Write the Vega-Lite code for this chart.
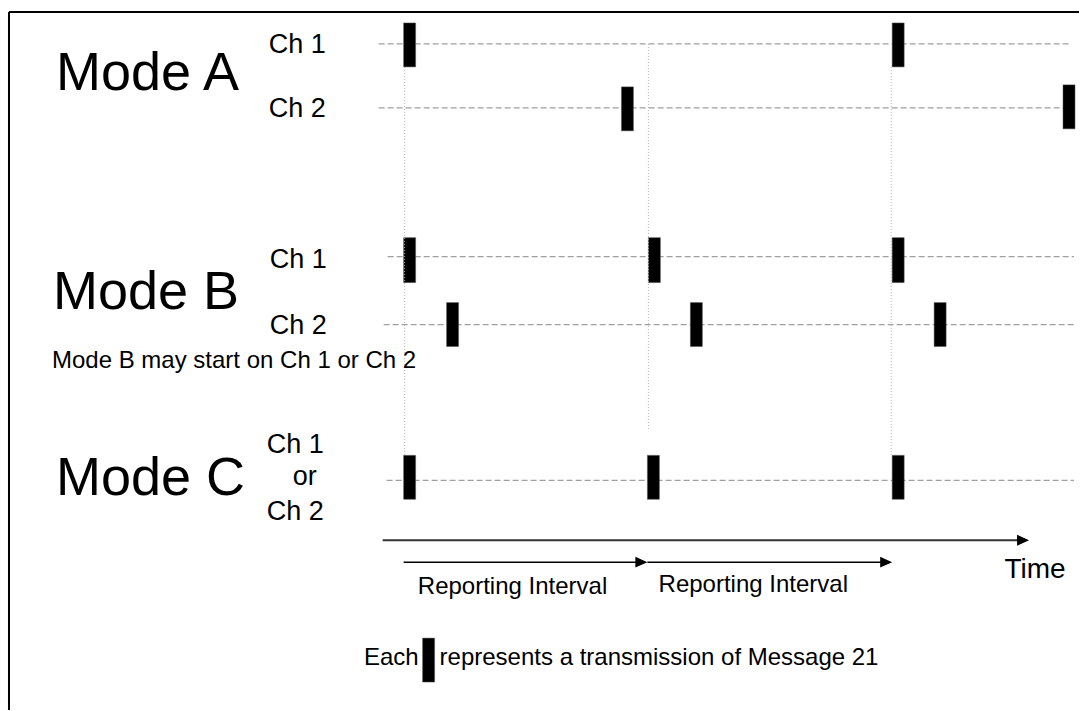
{
  "$schema": "https://vega.github.io/schema/vega-lite/v6.json",
  "width": 1080,
  "height": 711,
  "padding": 0,
  "autosize": {"type": "fit", "contains": "padding"},
  "background": "white",
  "config": {"view": {"stroke": null}, "font": "Liberation Sans"},
  "datasets": {
    "frame": [
      {"x": 9, "x2": 9, "y": 12, "y2": 711},
      {"x": 9, "x2": 1080, "y": 12, "y2": 12}
    ],
    "hlines": [
      {"row": "A Ch 1", "x": 379, "x2": 1070, "y": 44, "y2": 44},
      {"row": "A Ch 2", "x": 379, "x2": 1066, "y": 108, "y2": 108},
      {"row": "B Ch 1", "x": 388, "x2": 1075, "y": 257, "y2": 257},
      {"row": "B Ch 2", "x": 384, "x2": 1075, "y": 325, "y2": 325},
      {"row": "C", "x": 387, "x2": 1075, "y": 481, "y2": 481}
    ],
    "vlines": [
      {"x": 405, "x2": 405, "y": 67, "y2": 456},
      {"x": 649, "x2": 649, "y": 44, "y2": 430},
      {"x": 892, "x2": 892, "y": 67, "y2": 456}
    ],
    "bars": [
      {"row": "A Ch 1", "x": 404, "x2": 416, "y": 23, "y2": 67},
      {"row": "A Ch 1", "x": 893, "x2": 905, "y": 23, "y2": 67},
      {"row": "A Ch 2", "x": 622, "x2": 634, "y": 87, "y2": 131},
      {"row": "A Ch 2", "x": 1064, "x2": 1076, "y": 85, "y2": 129},
      {"row": "B Ch 1", "x": 404, "x2": 416, "y": 238, "y2": 283},
      {"row": "B Ch 1", "x": 649, "x2": 661, "y": 238, "y2": 283},
      {"row": "B Ch 1", "x": 893, "x2": 905, "y": 238, "y2": 283},
      {"row": "B Ch 2", "x": 447, "x2": 459, "y": 303, "y2": 347},
      {"row": "B Ch 2", "x": 691, "x2": 703, "y": 303, "y2": 347},
      {"row": "B Ch 2", "x": 935, "x2": 947, "y": 303, "y2": 347},
      {"row": "C", "x": 404, "x2": 416, "y": 456, "y2": 500},
      {"row": "C", "x": 648, "x2": 660, "y": 456, "y2": 500},
      {"row": "C", "x": 893, "x2": 905, "y": 456, "y2": 500},
      {"row": "legend", "x": 423, "x2": 435, "y": 639, "y2": 683}
    ],
    "timeline": [
      {"x": 383, "x2": 1020, "y": 541, "y2": 541}
    ],
    "intervals": [
      {"x": 404, "x2": 638, "y": 563, "y2": 563},
      {"x": 648, "x2": 883, "y": 563, "y2": 563}
    ],
    "timehead": [{"x": 1024, "y": 541}],
    "intervalheads": [{"x": 642, "y": 563}, {"x": 887, "y": 563}],
    "modes": [
      {"label": "Mode A", "x": 56, "y": 74},
      {"label": "Mode B", "x": 53, "y": 293},
      {"label": "Mode C", "x": 56, "y": 480}
    ],
    "channels": [
      {"label": "Ch 1", "x": 269, "y": 45},
      {"label": "Ch 2", "x": 269, "y": 109},
      {"label": "Ch 1", "x": 270, "y": 260},
      {"label": "Ch 2", "x": 270, "y": 326},
      {"label": "Ch 1", "x": 267, "y": 446},
      {"label": "or", "x": 293, "y": 478},
      {"label": "Ch 2", "x": 267, "y": 513}
    ],
    "notesLeft": [
      {"label": "Mode B may start on Ch 1 or Ch 2", "x": 52, "y": 362},
      {"label": "represents a transmission of Message 21", "x": 440, "y": 659}
    ],
    "notesCenter": [
      {"label": "Reporting Interval", "x": 513, "y": 588},
      {"label": "Reporting Interval", "x": 754, "y": 586}
    ],
    "notesRight": [
      {"label": "Each", "x": 419, "y": 659}
    ],
    "timeLabel": [
      {"label": "Time", "x": 1036, "y": 571}
    ]
  },
  "encoding": {
    "x": {"field": "x", "type": "quantitative", "axis": null, "scale": {"domain": [0, 1080], "nice": false, "zero": false}},
    "y": {"field": "y", "type": "quantitative", "axis": null, "scale": {"domain": [0, 711], "nice": false, "zero": false, "reverse": true}}
  },
  "layer": [
    {
      "data": {"name": "frame"},
      "mark": {"type": "rule", "color": "black", "strokeWidth": 2},
      "encoding": {"x2": {"field": "x2"}, "y2": {"field": "y2"}}
    },
    {
      "data": {"name": "hlines"},
      "mark": {"type": "rule", "color": "#a0a0a0", "strokeWidth": 1.3, "strokeDash": [6, 3]},
      "encoding": {"x2": {"field": "x2"}, "y2": {"field": "y2"}}
    },
    {
      "data": {"name": "bars"},
      "mark": {"type": "rect", "color": "black", "stroke": "#555555", "strokeWidth": 0.5},
      "encoding": {"x2": {"field": "x2"}, "y2": {"field": "y2"}}
    },
    {
      "data": {"name": "vlines"},
      "mark": {"type": "rule", "color": "#b0b0b0", "strokeWidth": 1, "strokeDash": [1, 2]},
      "encoding": {"x2": {"field": "x2"}, "y2": {"field": "y2"}}
    },
    {
      "data": {"name": "timeline"},
      "mark": {"type": "rule", "color": "#333333", "strokeWidth": 2.2},
      "encoding": {"x2": {"field": "x2"}, "y2": {"field": "y2"}}
    },
    {
      "data": {"name": "intervals"},
      "mark": {"type": "rule", "color": "black", "strokeWidth": 1.5},
      "encoding": {"x2": {"field": "x2"}, "y2": {"field": "y2"}}
    },
    {
      "data": {"name": "timehead"},
      "mark": {"type": "point", "shape": "M-1,-0.9L1,0L-1,0.9Z", "filled": true, "color": "black", "opacity": 1, "size": 144}
    },
    {
      "data": {"name": "intervalheads"},
      "mark": {"type": "point", "shape": "M-1,-0.9L1,0L-1,0.9Z", "filled": true, "color": "black", "opacity": 1, "size": 144}
    },
    {
      "data": {"name": "modes"},
      "mark": {"type": "text", "fontSize": 54, "align": "left", "baseline": "middle", "color": "black"},
      "encoding": {"text": {"field": "label"}}
    },
    {
      "data": {"name": "channels"},
      "mark": {"type": "text", "fontSize": 27, "align": "left", "baseline": "middle", "color": "black"},
      "encoding": {"text": {"field": "label"}}
    },
    {
      "data": {"name": "notesLeft"},
      "mark": {"type": "text", "fontSize": 24, "align": "left", "baseline": "middle", "color": "black"},
      "encoding": {"text": {"field": "label"}}
    },
    {
      "data": {"name": "notesCenter"},
      "mark": {"type": "text", "fontSize": 24, "align": "center", "baseline": "middle", "color": "black"},
      "encoding": {"text": {"field": "label"}}
    },
    {
      "data": {"name": "notesRight"},
      "mark": {"type": "text", "fontSize": 24, "align": "right", "baseline": "middle", "color": "black"},
      "encoding": {"text": {"field": "label"}}
    },
    {
      "data": {"name": "timeLabel"},
      "mark": {"type": "text", "fontSize": 28, "align": "center", "baseline": "middle", "color": "black"},
      "encoding": {"text": {"field": "label"}}
    }
  ]
}
